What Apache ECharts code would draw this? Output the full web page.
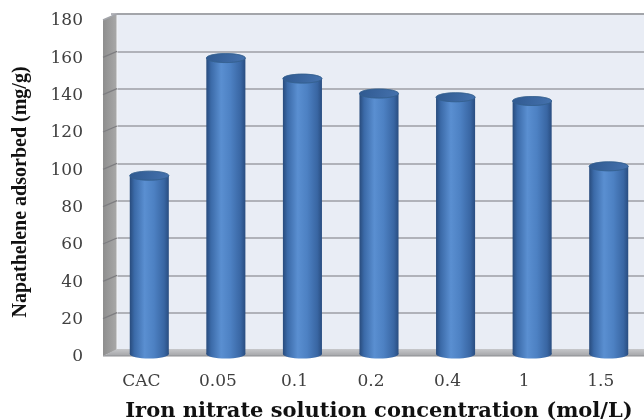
<!DOCTYPE html>
<html>
<head>
<meta charset="utf-8">
<script src="https://cdn.jsdelivr.net/npm/echarts@6/dist/echarts.min.js"></script>
<style>
  html, body { margin: 0; padding: 0; background: #ffffff; }
  #chart { width: 644px; height: 420px; }
</style>
</head>
<body>
<div id="chart"></div>
<script>
// Naphthalene uptake vs. iron nitrate loading
const categories = ['CAC', '0.05', '0.1', '0.2', '0.4', '1', '1.5'];
const adsorbed = [95, 158, 147, 139, 137, 135, 100];
const yTicks = [0, 20, 40, 60, 80, 100, 120, 140, 160, 180];

const xTitle = 'Iron nitrate solution concentration (mol/L)';
const yTitle = 'Napathelene adsorbed (mg/g)';

const chart = echarts.init(document.getElementById('chart'), null, { renderer: 'canvas' });

// shading across a cylinder's face
const bodyGrad = {
  type: 'linear', x: 0, y: 0, x2: 1, y2: 0,
  colorStops: [
    { offset: 0, color: '#284b7c' },
    { offset: 0.12, color: '#3b6aa8' },
    { offset: 0.38, color: '#5a8fd1' },
    { offset: 0.62, color: '#4d81c3' },
    { offset: 0.88, color: '#3966a3' },
    { offset: 1, color: '#294d80' }
  ]
};
const topGrad = {
  type: 'linear', x: 0, y: 0, x2: 1, y2: 1,
  colorStops: [
    { offset: 0, color: '#2f5990' },
    { offset: 1, color: '#4572ae' }
  ]
};

function cylinder(params, api) {
  const top = api.coord([api.value(0), api.value(1)]);
  const base = api.coord([api.value(0), 0]);
  const w = api.size([1, 0])[0] * 0.51;
  const rx = w / 2, ry = 4.5, depth = 3;
  const cx = top[0];
  const yt = top[1] + depth;
  const yb = base[1] + depth + 1;
  return {
    type: 'group',
    children: [
      { type: 'rect', shape: { x: cx - rx, y: yt, width: w, height: yb - yt }, style: { fill: bodyGrad } },
      { type: 'ellipse', shape: { cx: cx, cy: yb, rx: rx, ry: ry }, style: { fill: bodyGrad } },
      { type: 'ellipse', shape: { cx: cx, cy: yt, rx: rx, ry: ry }, style: { fill: topGrad, stroke: '#34608f', lineWidth: 0.6 } }
    ]
  };
}

const serif = "'DejaVu Serif', 'Liberation Serif', serif";

chart.setOption({
  animation: false,
  grid: {
    left: 111, right: -3, top: 14, bottom: 70,
    outerBoundsMode: 'none',
    containLabel: false,
    show: true, backgroundColor: '#e9edf5', borderWidth: 0
  },
  xAxis: {
    type: 'category',
    data: categories,
    axisLine: { show: false },
    axisTick: { show: false },
    axisLabel: {
      margin: 23, fontFamily: serif, fontSize: 17, color: '#404040',
      padding: [0, 16, 0, 0]
    },
    name: xTitle,
    nameLocation: 'middle',
    nameGap: 51,
    nameTextStyle: { fontFamily: serif, fontWeight: 'bold', fontSize: 21, color: '#111111' }
  },
  yAxis: {
    type: 'value',
    min: 0, max: 180, interval: 20,
    axisLine: { show: false },
    axisTick: { show: false },
    splitLine: { lineStyle: { color: '#9c9ea4', width: 1.6 } },
    axisLabel: {
      margin: 28, fontFamily: serif, fontSize: 17, color: '#404040',
      verticalAlign: 'top', lineHeight: 14
    },
    name: yTitle,
    nameLocation: 'middle',
    nameGap: 80,
    nameTextStyle: {
      fontFamily: "'Liberation Serif', serif", fontWeight: 'bold', fontSize: 20, color: '#111111',
      padding: [0, 20, 0, 0]
    }
  },
  series: [{
    type: 'custom',
    renderItem: cylinder,
    data: categories.map((c, i) => [i, adsorbed[i]]),
    encode: { x: 0, y: 1 },
    z: 5
  }]
});

// side wall, floor slab and back-wall top edge of the chart box
function drawFrame() {
  const xL = 103, xB = 117, xR = 644;
  const y0 = chart.convertToPixel({ yAxisIndex: 0 }, 0);
  const yTop = chart.convertToPixel({ yAxisIndex: 0 }, 180);
  const dz = 6;
  const els = [
    {
      type: 'polygon', z: 1,
      shape: { points: [[xL, yTop + dz], [xB, yTop], [xB, y0], [xL, y0 + dz]] },
      style: {
        fill: { type: 'linear', x: 0, y: 0, x2: 1, y2: 0,
          colorStops: [{ offset: 0, color: '#8e8e8e' }, { offset: 1, color: '#a9a9a9' }] }
      }
    },
    { type: 'line', z: 1, shape: { x1: xB, y1: yTop, x2: xB, y2: y0 }, style: { stroke: '#f2f4f8', lineWidth: 1 } },
    { type: 'line', z: 1, shape: { x1: xB, y1: yTop, x2: xR, y2: yTop }, style: { stroke: '#a3a5aa', lineWidth: 2 } },
    { type: 'line', z: 1, shape: { x1: xL, y1: yTop + dz, x2: xB, y2: yTop }, style: { stroke: '#a3a5aa', lineWidth: 1.5 } },
    {
      type: 'polygon', z: 1,
      shape: { points: [[xL, y0 + dz], [xB, y0 - 1], [xR, y0 - 1], [xR, y0 + dz]] },
      style: {
        fill: { type: 'linear', x: 0, y: 0, x2: 0, y2: 1,
          colorStops: [{ offset: 0, color: '#c6c7ca' }, { offset: 1, color: '#a4a5a8' }] }
      }
    },
    { type: 'line', z: 1, shape: { x1: xL, y1: y0 + dz, x2: xR, y2: y0 + dz }, style: { stroke: '#8f9094', lineWidth: 1 } }
  ];
  yTicks.forEach(v => {
    const y = chart.convertToPixel({ yAxisIndex: 0 }, v);
    if (v > 0 && v < 180) {
      els.push({ type: 'line', z: 1, shape: { x1: xL, y1: y + dz, x2: xB, y2: y },
        style: { stroke: '#7d7d80', lineWidth: 1.2 } });
    }
  });
  chart.setOption({ graphic: { elements: els } });
}
drawFrame();
</script>
</body>
</html>
